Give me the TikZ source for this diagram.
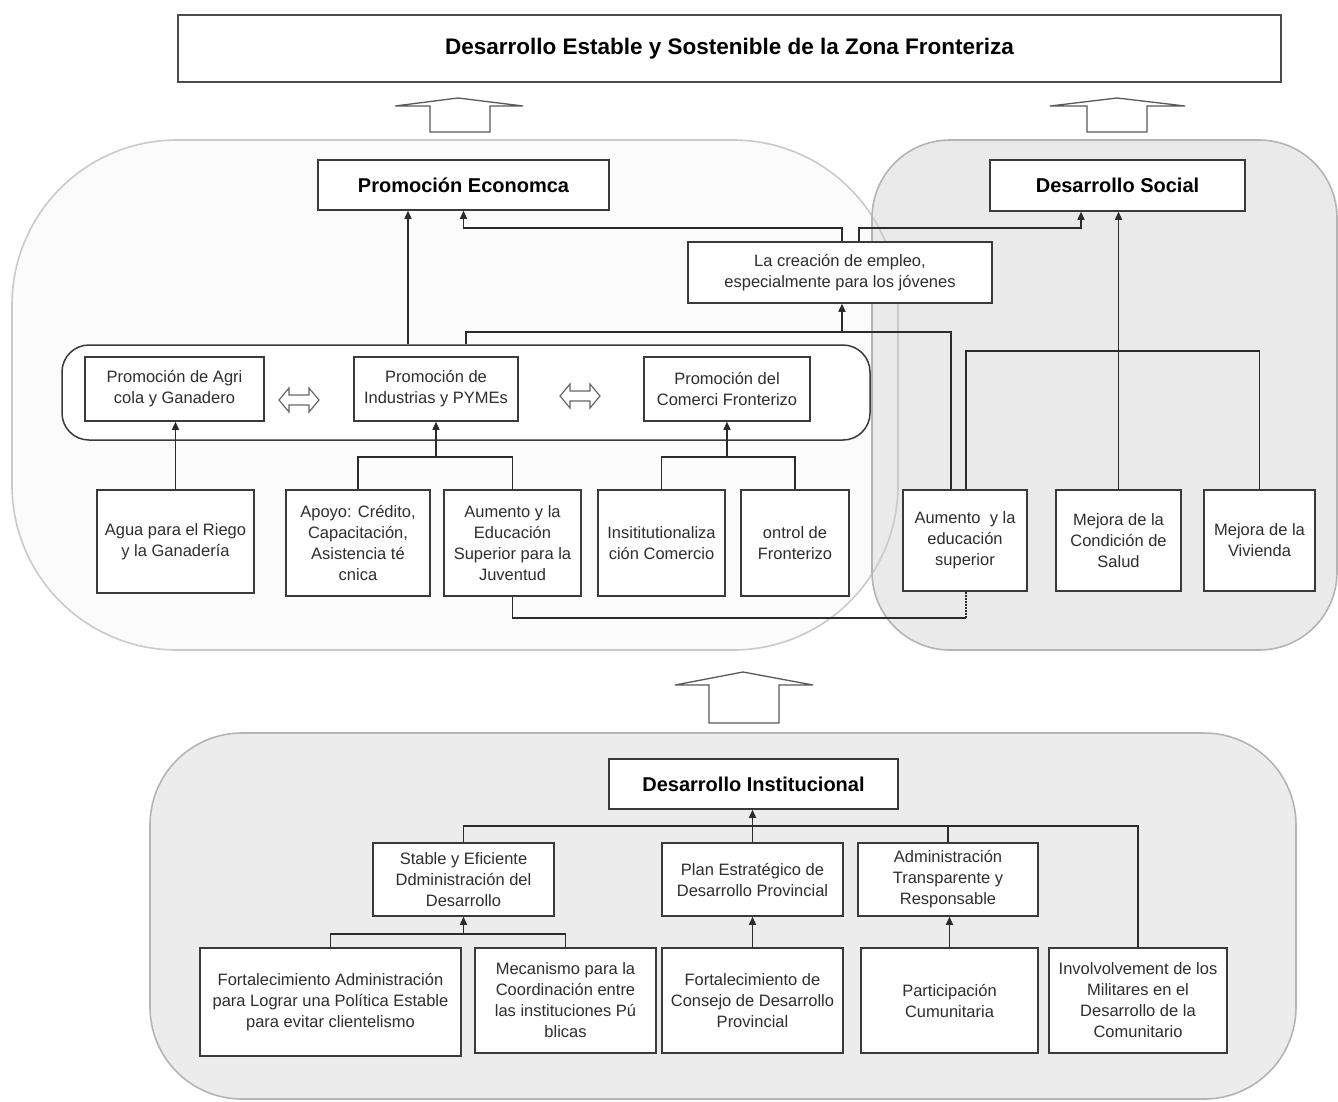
\documentclass[tikz,border=0pt]{standalone}
\usepackage{fontspec}
\setmainfont{Liberation Sans}
\usetikzlibrary{arrows.meta}

\definecolor{ink}{HTML}{2B2B2B}
\definecolor{boxline}{HTML}{3A3A3A}
\definecolor{txt}{HTML}{2E2E2E}
\definecolor{leftfill}{HTML}{FBFBFB}
\definecolor{greyfill}{HTML}{EAEAEA}
\definecolor{instfill}{HTML}{ECECEC}
\definecolor{regionline}{HTML}{B4B4B4}
\definecolor{softline}{HTML}{CACACA}

\newcommand{\bodyfont}{\fontsize{16.5}{21}\selectfont}
\newcommand{\headfont}{\fontsize{20}{24}\selectfont\bfseries}
\newcommand{\goalfont}{\fontsize{22.5}{26}\selectfont\bfseries}

\begin{document}
\begin{tikzpicture}[x=1pt,y=-1pt,
  box/.style={draw=boxline, line width=1.5pt, fill=white, align=center,
              text=txt, font=\bodyfont, inner sep=0pt},
  headbox/.style={box, font=\headfont, text=black},
  link/.style={draw=ink, line width=1.4pt},
  arr/.style={link, -{Triangle[length=8pt,width=7pt]}},
  housearrow/.style={draw=black!65, line width=1.3pt, fill=white, line join=miter},
  twoway/.style={draw=black!60, line width=1.2pt, fill=white}
]
\useasboundingbox (0,0) rectangle (1338,1101);
\fill[white] (0,0) rectangle (1338,1101);

% ---------- background regions ----------
\fill[leftfill, rounded corners=165pt] (12,140) rectangle (898,650);
\fill[greyfill, rounded corners=78pt] (872,140) rectangle (1337,650);
\draw[softline, line width=1.6pt, rounded corners=165pt] (12,140) rectangle (898,650);
\draw[regionline, line width=1.6pt, rounded corners=78pt] (872,140) rectangle (1337,650);
\filldraw[fill=instfill, draw=regionline, line width=1.6pt, rounded corners=92pt]
  (150,733) rectangle (1296,1099);

% ---------- hollow block arrows between levels ----------
\draw[housearrow] (430,132) -- (430,106) -- (395,106) -- (458,98) -- (523,106)
  -- (490,106) -- (490,132) -- cycle;
\draw[housearrow] (1087,132) -- (1087,106) -- (1050,106) -- (1117,98) -- (1185,106)
  -- (1147,106) -- (1147,132) -- cycle;
\draw[housearrow] (709,723) -- (709,685) -- (675,685) -- (743,672) -- (813,685)
  -- (779,685) -- (779,723) -- cycle;

% ---------- goal ----------
\node[draw=black!70, line width=1.2pt, fill=white, font=\goalfont,
      minimum width=1103, minimum height=67] (GOAL) at (729.5,48.5)
  {Desarrollo Estable y Sostenible de la Zona Fronteriza};

% ---------- economic promotion ----------
\node[headbox, minimum width=291, minimum height=50] (PE) at (463.5,185) {Promoción Economca};
\node[headbox, minimum width=255, minimum height=51] (DS) at (1117.5,185.5) {Desarrollo Social};
\node[box, minimum width=304, minimum height=61] (EMP) at (840,272.5)
  {La creación de empleo,\\especialmente para los jóvenes};

\node[draw=boxline, line width=1.5pt, fill=white, rounded corners=27pt,
      minimum width=808, minimum height=95, inner sep=0pt] (BAND) at (466,392.5) {};

\node[box, minimum width=179, minimum height=64] (AGR) at (174.5,389) {Promoción de Agri\\cola y Ganadero};
\node[box, minimum width=164, minimum height=64] (IND) at (436,389) {Promoción de\\Industrias y PYMEs};
\node[box, minimum width=166, minimum height=64] (COM) at (727,389) {Promoción del\\Comerci Fronterizo};

% two-way arrows inside the band
\draw[twoway] (279,400) -- (289,388) -- (289,395) -- (309,395) -- (309,388) -- (319,400)
  -- (309,412) -- (309,405) -- (289,405) -- (289,412) -- cycle;
\draw[twoway] (560,396) -- (570,384) -- (570,391) -- (590,391) -- (590,384) -- (600,396)
  -- (590,408) -- (590,401) -- (570,401) -- (570,408) -- cycle;

\node[box, minimum width=157, minimum height=103] (AGUA) at (175.5,541.5) {Agua para el Riego\\y la Ganadería};
\node[box, minimum width=144, minimum height=106] (APOYO) at (358,543) {Apoyo: Crédito,\\Capacitación,\\Asistencia té\\cnica};
\node[box, minimum width=137, minimum height=106] (AUM1) at (512.5,543) {Aumento y la\\Educación\\Superior para la\\Juventud};
\node[box, minimum width=127, minimum height=106] (INST) at (661.5,543) {Insititutionaliza\\ción Comercio};
\node[box, minimum width=108, minimum height=106] (CTRL) at (795,543) {ontrol de\\Fronterizo};

\node[box, minimum width=124, minimum height=101] (AUM2) at (965,540.5) {Aumento~ y la\\educación\\superior};
\node[box, minimum width=125, minimum height=101] (SALUD) at (1118.5,540.5) {Mejora de la\\Condición de\\Salud};
\node[box, minimum width=111, minimum height=101] (VIV) at (1259.5,540.5) {Mejora de la\\Vivienda};

% ---------- institutional development ----------
\node[headbox, minimum width=289, minimum height=50] (DI) at (753.5,784) {Desarrollo Institucional};
\node[box, minimum width=181, minimum height=73] (STAB) at (463.5,879.5) {Stable y Eficiente\\Ddministración del\\Desarrollo};
\node[box, minimum width=181, minimum height=73] (PLAN) at (752.5,879.5) {Plan Estratégico de\\Desarrollo Provincial};
\node[box, minimum width=180, minimum height=73] (ADM) at (948,879.5) {Administración\\Transparente y\\Responsable};

\node[box, minimum width=261, minimum height=108] (FADM) at (330.5,1002) {Fortalecimiento Administración\\para Lograr una Política Estable\\para evitar clientelismo};
\node[box, minimum width=181, minimum height=105] (MEC) at (565.5,1000.5) {Mecanismo para la\\Coordinación entre\\las instituciones Pú\\blicas};
\node[box, minimum width=181, minimum height=105] (FCON) at (752.5,1000.5) {Fortalecimiento de\\Consejo de Desarrollo\\Provincial};
\node[box, minimum width=177, minimum height=105] (PART) at (949.5,1000.5) {Participación\\Cumunitaria};
\node[box, minimum width=178, minimum height=105] (INV) at (1138,1000.5) {Involvolvement de los\\Militares en el\\Desarrollo de la\\Comunitario};

% ---------- bus levels and connector columns ----------
\coordinate (busTop) at (0,228);
\coordinate (busEmp) at (0,332);
\coordinate (busSoc) at (0,351);
\coordinate (busEco) at (0,457);
\coordinate (busLink) at (0,618);
\coordinate (busInst) at (0,826);
\coordinate (busStab) at (0,934);
\coordinate (colBand) at (408,0);
\coordinate (colEmpIn) at (466,0);
\coordinate (colEmpL) at (842,0);
\coordinate (colEmpR) at (859,0);
\coordinate (colDS) at (1081,0);
\coordinate (colAumL) at (951,0);
\coordinate (colAumR) at (966,0);

% economic side
\draw[arr] (BAND.north -| colBand) -- (PE.south -| colBand);
\draw[arr] (AGUA.north) -- (AGUA.north |- AGR.south);
\draw[link] (APOYO.north) -- (APOYO.north |- busEco) -- (AUM1.north |- busEco) -- (AUM1.north);
\draw[arr] (IND.south |- busEco) -- (IND.south);
\draw[link] (INST.north) -- (INST.north |- busEco) -- (CTRL.north |- busEco) -- (CTRL.north);
\draw[arr] (COM.south |- busEco) -- (COM.south);

% employment node
\draw[link] (BAND.north -| colEmpIn) -- (colEmpIn |- busEmp) -- (colAumL |- busEmp) -- (AUM2.north -| colAumL);
\draw[arr] (colEmpL |- busEmp) -- (EMP.south -| colEmpL);
\draw[arr] (EMP.north -| colEmpL) -- (colEmpL |- busTop) -- (PE.south |- busTop) -- (PE.south);
\draw[arr] (EMP.north -| colEmpR) -- (colEmpR |- busTop) -- (colDS |- busTop) -- (DS.south -| colDS);

% social side
\draw[link] (AUM2.north -| colAumR) -- (colAumR |- busSoc) -- (VIV.north |- busSoc) -- (VIV.north);
\draw[arr] (SALUD.north) -- (DS.south -| SALUD.north);

% link between the two education boxes
\draw[link] (AUM1.south) -- (AUM1.south |- busLink) -- (colAumR |- busLink);
\draw[draw=ink, line width=2pt, densely dotted] (colAumR |- busLink) -- (AUM2.south -| colAumR);

% institutional side
\draw[link] (STAB.north) -- (STAB.north |- busInst) -- (INV.north |- busInst) -- (INV.north);
\draw[link] (ADM.north) -- (ADM.north |- busInst);
\draw[arr] (PLAN.north) -- (DI.south -| PLAN.north);
\draw[link] (FADM.north) -- (FADM.north |- busStab) -- (MEC.north |- busStab) -- (MEC.north);
\draw[arr] (STAB.south |- busStab) -- (STAB.south);
\draw[arr] (FCON.north) -- (PLAN.south);
\draw[arr] (PART.north) -- (PART.north |- ADM.south);

\end{tikzpicture}
\end{document}
